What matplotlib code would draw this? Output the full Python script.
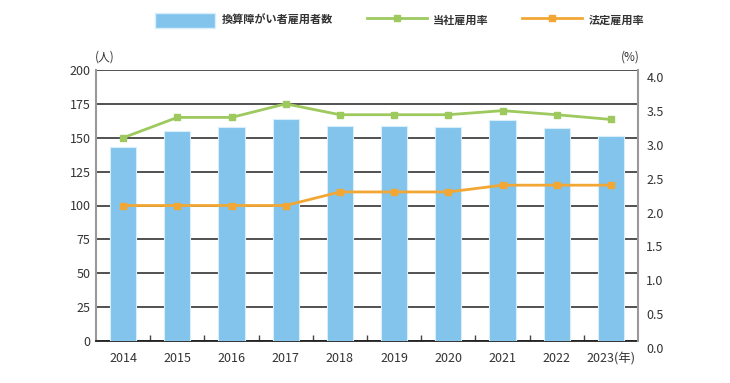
import numpy as np
import matplotlib.pyplot as plt
import matplotlib.transforms as mtransforms
from matplotlib.patches import Patch
from matplotlib.lines import Line2D

plt.rcParams['font.family'] = ['Noto Sans CJK JP', 'DejaVu Sans']

years = ['2014', '2015', '2016', '2017', '2018', '2019', '2020', '2021', '2022', '2023(年)']
employees = [143, 155, 158, 164, 159, 159, 158, 163, 157, 151]
company_rate = [3.00, 3.30, 3.30, 3.50, 3.34, 3.34, 3.34, 3.40, 3.34, 3.27]
legal_rate = [2.0, 2.0, 2.0, 2.0, 2.2, 2.2, 2.2, 2.3, 2.3, 2.3]

bar_color = '#82c4ec'
green = '#9dc95e'
orange = '#f2a735'
txt = '#333333'

fig = plt.figure(figsize=(7.3, 3.83), dpi=100)
ax = fig.add_axes([96 / 730, 1 - 341 / 383, 542 / 730, 271 / 383])
x = np.arange(len(years))

ax.bar(x, employees, width=0.48, color=bar_color, edgecolor='#d8eefa', linewidth=0.8, zorder=3)
ax.set_xlim(-0.5, len(years) - 0.5)
ax.set_ylim(0, 200)
ax.set_yticks(np.arange(0, 201, 25))
ax.yaxis.grid(True, color='#222222', linewidth=1.1)
ax.set_axisbelow(True)

ax.set_xticks(x)
ax.set_xticklabels(years)
ax.set_xticks(x[:-1] + 0.5, minor=True)
ax.tick_params(axis='x', which='major', length=0, pad=8, labelsize=9, labelcolor=txt)
ax.tick_params(axis='x', which='minor', direction='in', length=4, width=1, color='#444444')
ax.tick_params(axis='y', length=0, pad=4, labelsize=9, labelcolor=txt)

for s in ['top', 'right']:
    ax.spines[s].set_visible(False)
ax.spines['left'].set_color('#999999')
ax.spines['left'].set_linewidth(1.5)
ax.spines['bottom'].set_color('#222222')
ax.spines['bottom'].set_linewidth(1.3)

ax2 = ax.twinx()
ax2.plot(x, company_rate, color=green, linewidth=2, marker='s', markersize=4.5, zorder=5)
ax2.plot(x, legal_rate, color=orange, linewidth=2, marker='s', markersize=4.5, zorder=5)
ax2.set_ylim(0, 4.0)
ax2.set_yticks(np.arange(0, 4.01, 0.5))
ax2.set_yticklabels([f'{v:.1f}' for v in np.arange(0, 4.01, 0.5)])
ax2.tick_params(axis='y', length=0, pad=6, labelsize=9, labelcolor=txt)
for s in ['top', 'left', 'bottom']:
    ax2.spines[s].set_visible(False)
ax2.spines['right'].set_color('#999999')
ax2.spines['right'].set_linewidth(1.5)

# right-hand labels sit a little below the gridlines in the original
shift = mtransforms.ScaledTranslation(0, -7 / 100, fig.dpi_scale_trans)
for lab in ax2.get_yticklabels():
    lab.set_transform(lab.get_transform() + shift)

fig.text(95 / 730, 1 - 57 / 383, '(人)', fontsize=8.5, color=txt, va='center', ha='left')
fig.text(640 / 730, 1 - 57 / 383, '(%)', fontsize=8.5, color=txt, va='center', ha='right')

handles = [
    Patch(facecolor=bar_color, edgecolor='#d8eefa'),
    Line2D([], [], color=green, linewidth=2, marker='s', markersize=4.5),
    Line2D([], [], color=orange, linewidth=2, marker='s', markersize=4.5),
]
labels = ['換算障がい者雇用者数', '当社雇用率', '法定雇用率']
leg = fig.legend(handles, labels, loc='center', bbox_to_anchor=(400 / 730, 1 - 20 / 383),
                 ncol=3, frameon=False, fontsize=8, handlelength=5.4, handleheight=1.7,
                 handletextpad=0.6, columnspacing=3.0, borderaxespad=0)
for t in leg.get_texts():
    t.set_color(txt)
    t.set_fontweight('bold')

fig.savefig('out.png', dpi=100)
